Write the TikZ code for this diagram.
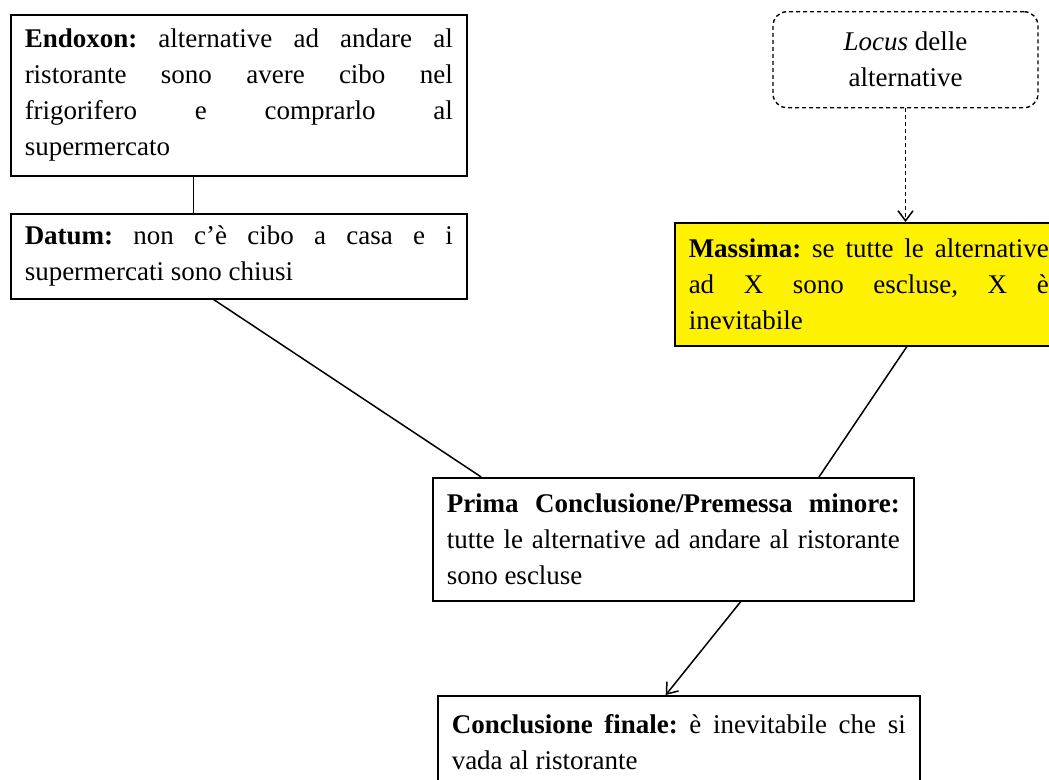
\documentclass[tikz,border=0pt]{standalone}
\usepackage{fontspec}
\setmainfont{Liberation Serif}
\usetikzlibrary{arrows.meta,calc}
\tolerance=10000
\hyphenpenalty=10000
\frenchspacing

\begin{document}
\begin{tikzpicture}[x=1pt,y=-1pt,
  txt/.style={font=\fontsize{27}{36}\selectfont},
  box/.style={txt, draw, line width=1.5pt, anchor=north west,
    inner xsep=14pt, inner ysep=0pt, align=justify},
  locusbox/.style={txt, draw, dashed, dash pattern=on 4pt off 3pt,
    line width=1.4pt, rounded corners=14pt, anchor=north,
    minimum width=265pt, minimum height=96pt, align=center, inner sep=0pt},
  link/.style={line width=1.5pt},
  arr/.style={line width=1.5pt, -{Straight Barb[length=10pt,width=15pt]}}
]
\useasboundingbox (0,0) rectangle (1049,779);
\clip (0,0) rectangle (1049,779);

% premises on the left
\node[box, text width=428pt, minimum height=161pt] (endo) at (10,14)
  {\textbf{Endoxon:} alternative ad andare al\linebreak
   ristorante sono avere cibo nel\linebreak
   frigorifero e comprarlo al\linebreak
   supermercato};

\node[box, text width=428pt, minimum height=85pt] (datum) at (10,213)
  {\textbf{Datum:} non c’è cibo a casa e i\linebreak
   supermercati sono chiusi};

% locus and maxim on the right
\node[locusbox] (locus) at (905.5,11)
  {\textit{Locus} delle\\alternative};

\node[box, fill=yellow, text width=360pt, minimum height=123pt] (massima) at (674,222)
  {\textbf{Massima:} se tutte le alternative\linebreak
   ad X sono escluse, X è\linebreak
   inevitabile};

% conclusions
\node[box, text width=453pt, minimum height=123pt] (prima) at (432,477)
  {\textbf{Prima Conclusione/Premessa minore:}\linebreak
   tutte le alternative ad andare al ristorante\linebreak
   sono escluse};

\node[box, text width=454pt, minimum height=92pt] (finale) at (437,695)
  {\textbf{Conclusione finale:} è inevitabile che si\linebreak
   vada al ristorante};

% connectors
\draw[link] ($(endo.south west)!0.401!(endo.south east)$)
  -- ($(datum.north west)!0.401!(datum.north east)$);
\draw[link] ($(datum.south west)!0.445!(datum.south east)$)
  -- ($(prima.north west)!0.102!(prima.north east)$);
\draw[link] ($(massima.south west)!0.598!(massima.south east)$)
  -- ($(prima.north west)!0.802!(prima.north east)$);
\draw[arr, dashed, dash pattern=on 4pt off 3pt] (locus.south) -- (locus.south |- massima.north);
\draw[arr] ($(prima.south west)!0.640!(prima.south east)$)
  -- ($(finale.north west)!0.473!(finale.north east)$);
\end{tikzpicture}
\end{document}
